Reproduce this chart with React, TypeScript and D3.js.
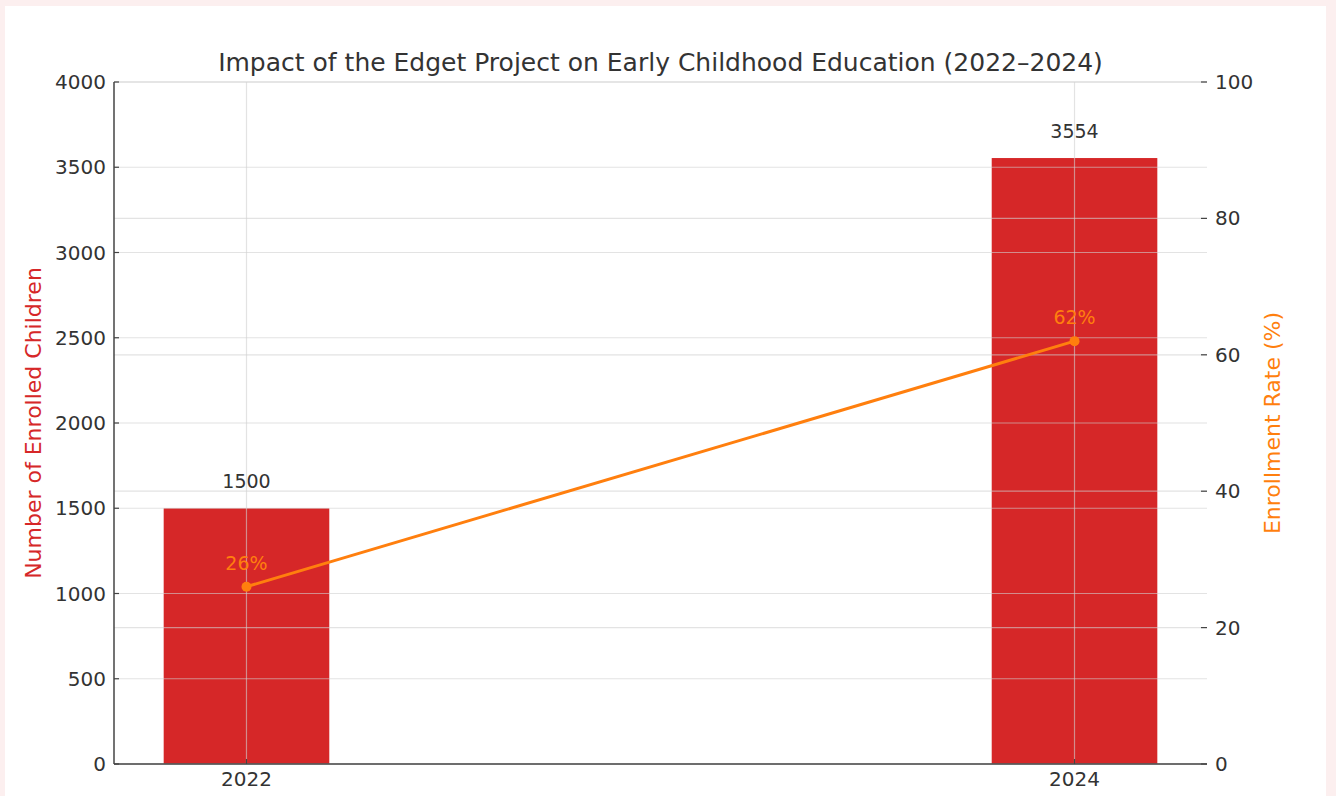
import React from "react";
import * as d3 from "d3";

const years = [2022, 2024];
const enrolled = [1500, 3554];
const rates = [26, 62];
const leftTicks = [0, 500, 1000, 1500, 2000, 2500, 3000, 3500, 4000];
const rightTicks = [0, 20, 40, 60, 80, 100];

const W = 1336;
const H = 796;
const FONT = "DejaVu Sans, sans-serif";
const RED = "#d62728";
const ORANGE = "#ff7f0e";
const TXT = "#333333";

export default function App() {
  const left = 114;
  const right = 1207;
  const top = 82;
  const bottom = 764;

  const x = d3.scaleLinear().domain([2021.68, 2024.32]).range([left, right]);
  const yL = d3.scaleLinear().domain([0, 4000]).range([bottom, top]);
  const yR = d3.scaleLinear().domain([0, 100]).range([bottom, top]);
  const barW = x(2022.4) - x(2022);

  const line = d3
    .line<number>()
    .x((_, i) => x(years[i]))
    .y((d) => yR(d));

  const gridColor = "#d0d0d0";
  const gridOpacity = 0.6;

  return (
    <div style={{ position: "absolute", left: 0, top: 0 }}>
      <svg width={W} height={H} style={{ display: "block" }} fontFamily={FONT}>
        <rect x={0} y={0} width={W} height={H} fill="#fcefef" />
        <rect x={5} y={6} width={1321} height={H - 6} fill="#ffffff" />

        {/* bars */}
        {years.map((yr, i) => (
          <rect
            key={yr}
            x={x(yr) - barW / 2}
            y={yL(enrolled[i])}
            width={barW}
            height={yL(0) - yL(enrolled[i])}
            fill={RED}
          />
        ))}

        {/* grid */}
        <g stroke={gridColor} strokeOpacity={gridOpacity} strokeWidth={1.2}>
          {leftTicks.map((t) => (
            <line key={"gl" + t} x1={left} x2={right} y1={yL(t)} y2={yL(t)} />
          ))}
          {rightTicks.map((t) => (
            <line key={"gr" + t} x1={left} x2={right} y1={yR(t)} y2={yR(t)} />
          ))}
          {years.map((yr) => (
            <line key={"gv" + yr} x1={x(yr)} x2={x(yr)} y1={top} y2={bottom} />
          ))}
        </g>

        {/* line */}
        <path d={line(rates) || ""} fill="none" stroke={ORANGE} strokeWidth={3} />
        {rates.map((r, i) => (
          <circle key={"c" + i} cx={x(years[i])} cy={yR(r)} r={5} fill={ORANGE} />
        ))}

        {/* annotations */}
        {years.map((yr, i) => (
          <text
            key={"bl" + yr}
            x={x(yr)}
            y={yL(enrolled[i]) - 20}
            textAnchor="middle"
            fontSize={19}
            fill={TXT}
          >
            {enrolled[i]}
          </text>
        ))}
        {years.map((yr, i) => (
          <text
            key={"rl" + yr}
            x={x(yr)}
            y={yR(rates[i]) - 17}
            textAnchor="middle"
            fontSize={19}
            fill={ORANGE}
          >
            {rates[i] + "%"}
          </text>
        ))}

        {/* spines */}
        <line x1={left} x2={left} y1={top} y2={bottom} stroke="#444" strokeWidth={1.5} />
        <line x1={left} x2={right} y1={bottom} y2={bottom} stroke="#444" strokeWidth={1.5} />

        {/* left ticks */}
        {leftTicks.map((t) => (
          <g key={"lt" + t}>
            <line x1={left} x2={left + 5} y1={yL(t)} y2={yL(t)} stroke="#444" strokeWidth={1.2} />
            <text
              x={left - 8}
              y={yL(t)}
              textAnchor="end"
              dominantBaseline="central"
              fontSize={20}
              fill={TXT}
            >
              {t}
            </text>
          </g>
        ))}

        {/* right ticks */}
        {rightTicks.map((t) => (
          <g key={"rt" + t}>
            <line x1={right - 6} x2={right} y1={yR(t)} y2={yR(t)} stroke="#444" strokeWidth={1.2} />
            <text
              x={right + 8}
              y={yR(t)}
              textAnchor="start"
              dominantBaseline="central"
              fontSize={20}
              fill={TXT}
            >
              {t}
            </text>
          </g>
        ))}

        {/* x ticks */}
        {years.map((yr) => (
          <g key={"xt" + yr}>
            <line x1={x(yr)} x2={x(yr)} y1={bottom} y2={bottom - 5} stroke="#444" strokeWidth={1.2} />
            <text x={x(yr)} y={bottom + 22} textAnchor="middle" fontSize={20} fill={TXT}>
              {yr}
            </text>
          </g>
        ))}

        {/* axis labels */}
        <text
          transform={`translate(41, ${(top + bottom) / 2}) rotate(-90)`}
          textAnchor="middle"
          fontSize={22}
          fill={RED}
        >
          Number of Enrolled Children
        </text>
        <text
          transform={`translate(1280, ${(top + bottom) / 2}) rotate(-90)`}
          textAnchor="middle"
          fontSize={22}
          fill={ORANGE}
        >
          Enrollment Rate (%)
        </text>

        {/* title */}
        <text x={(left + right) / 2} y={71} textAnchor="middle" fontSize={25} fill={TXT}>
          Impact of the Edget Project on Early Childhood Education (2022–2024)
        </text>
      </svg>
    </div>
  );
}
